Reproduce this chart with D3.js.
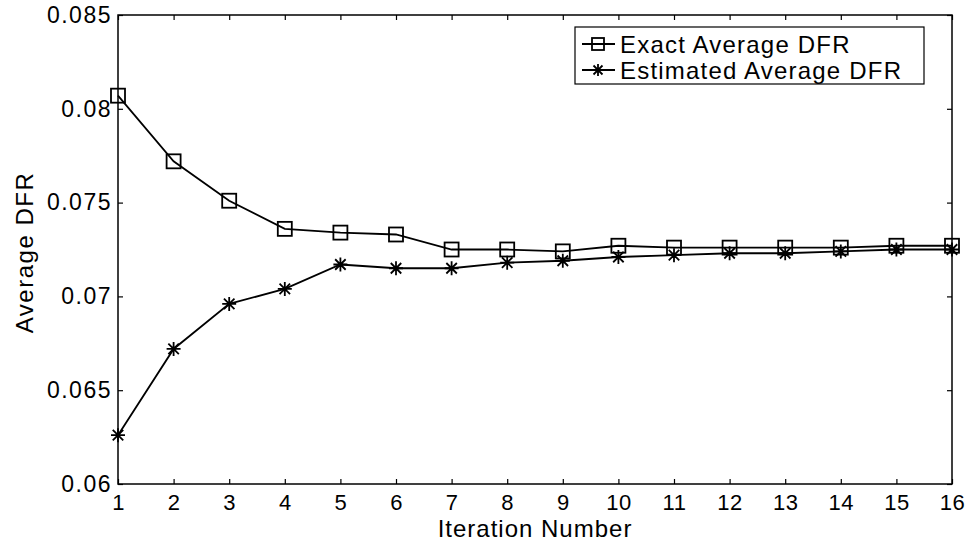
<!DOCTYPE html>
<html>
<head>
<meta charset="utf-8">
<script src="https://cdn.jsdelivr.net/npm/d3@7"></script>
<style>
body { margin: 0; background: #fff; }
text { font-family: "Liberation Sans", Arial, sans-serif; fill: #000; }
</style>
</head>
<body>
<svg width="966" height="541"></svg>
<script>
// data
const iterations = [1, 2, 3, 4, 5, 6, 7, 8, 9, 10, 11, 12, 13, 14, 15, 16];
const exactDFR = [0.0807, 0.0772, 0.0751, 0.0736, 0.0734, 0.0733, 0.0725, 0.0725, 0.0724, 0.0727, 0.0726, 0.0726, 0.0726, 0.0726, 0.0727, 0.0727];
const estimatedDFR = [0.0626, 0.0672, 0.0696, 0.0704, 0.0717, 0.0715, 0.0715, 0.0718, 0.0719, 0.0721, 0.0722, 0.0723, 0.0723, 0.0724, 0.0725, 0.0725];
const yTicks = [0.06, 0.065, 0.07, 0.075, 0.08, 0.085];
const seriesNames = ['Exact Average DFR', 'Estimated Average DFR'];

const svg = d3.select('svg');
const m = {left: 118, right: 14, top: 15, bottom: 57};
const w = 966 - m.left - m.right;
const h = 541 - m.top - m.bottom;

const x = d3.scaleLinear().domain([1, 16]).range([m.left, m.left + w]);
const y = d3.scaleLinear().domain([0.06, 0.085]).range([m.top + h, m.top]);

// axes, ticks pointing inwards like matlab
const fmtY = d => d3.format('.3~f')(d);
svg.append('g')
    .attr('transform', `translate(0,${m.top + h})`)
    .call(d3.axisBottom(x).tickValues(iterations).tickSizeInner(-5).tickSizeOuter(0).tickPadding(10).tickFormat(d3.format('d')))
    .call(g => g.selectAll('text').attr('font-size', 22).attr('letter-spacing', 0.5));
svg.append('g')
    .attr('transform', `translate(${m.left},0)`)
    .call(d3.axisLeft(y).tickValues(yTicks).tickSizeInner(-5).tickSizeOuter(0).tickPadding(6).tickFormat(fmtY))
    .call(g => g.selectAll('text').attr('font-size', 23).attr('letter-spacing', 1.5));
// top and right ticks
svg.append('g')
    .attr('transform', `translate(0,${m.top})`)
    .call(d3.axisTop(x).tickValues(iterations).tickSizeInner(-5).tickSizeOuter(0).tickFormat(''));
svg.append('g')
    .attr('transform', `translate(${m.left + w},0)`)
    .call(d3.axisRight(y).tickValues(yTicks).tickSizeInner(-5).tickSizeOuter(0).tickFormat(''));
svg.selectAll('.domain').remove();
svg.selectAll('.tick line').attr('stroke', '#000').attr('stroke-width', 1.2);

svg.append('rect')
    .attr('x', m.left).attr('y', m.top).attr('width', w).attr('height', h)
    .attr('fill', 'none').attr('stroke', '#000').attr('stroke-width', 1.5);

// axis titles
svg.append('text')
    .attr('x', m.left + w / 2).attr('y', 537)
    .attr('text-anchor', 'middle').attr('font-size', 24).attr('letter-spacing', 1)
    .text('Iteration Number');
svg.append('text')
    .attr('transform', `translate(33,${m.top + h / 2 + 3}) rotate(-90)`)
    .attr('text-anchor', 'middle').attr('font-size', 24).attr('letter-spacing', 1.5)
    .text('Average DFR');

const line = d3.line().x((d, i) => x(iterations[i])).y(d => y(d));

function square(g, cx, cy, r) {
    g.append('rect')
        .attr('x', cx - r).attr('y', cy - r).attr('width', 2 * r).attr('height', 2 * r)
        .attr('fill', 'none').attr('stroke', '#000').attr('stroke-width', 1.8);
}
function star(g, cx, cy, r) {
    const p = d3.path();
    p.moveTo(cx - r, cy); p.lineTo(cx + r, cy);
    p.moveTo(cx, cy - r); p.lineTo(cx, cy + r);
    const k = r * 0.75;
    p.moveTo(cx - k, cy - k); p.lineTo(cx + k, cy + k);
    p.moveTo(cx - k, cy + k); p.lineTo(cx + k, cy - k);
    g.append('path').attr('d', p.toString()).attr('stroke', '#000').attr('stroke-width', 1.8).attr('fill', 'none');
}

const series = [exactDFR, estimatedDFR];
const markers = [square, star];
series.forEach((vals, s) => {
    svg.append('path').datum(vals)
        .attr('d', line).attr('fill', 'none').attr('stroke', '#000').attr('stroke-width', 1.8);
    const g = svg.append('g');
    vals.forEach((v, i) => markers[s](g, x(iterations[i]), y(v), 7));
});

// legend
const lg = svg.append('g');
lg.append('rect')
    .attr('x', 575).attr('y', 27).attr('width', 349).attr('height', 57)
    .attr('fill', '#fff').attr('stroke', '#000').attr('stroke-width', 1.2);
seriesNames.forEach((name, s) => {
    const ly = 44 + s * 26;
    lg.append('line').attr('x1', 582).attr('x2', 615).attr('y1', ly).attr('y2', ly)
        .attr('stroke', '#000').attr('stroke-width', 1.8);
    markers[s](lg, 598, ly, 6);
    lg.append('text').attr('x', 620).attr('y', ly + 9).attr('font-size', 24).attr('letter-spacing', 1.2).text(name);
});
</script>
</body>
</html>
